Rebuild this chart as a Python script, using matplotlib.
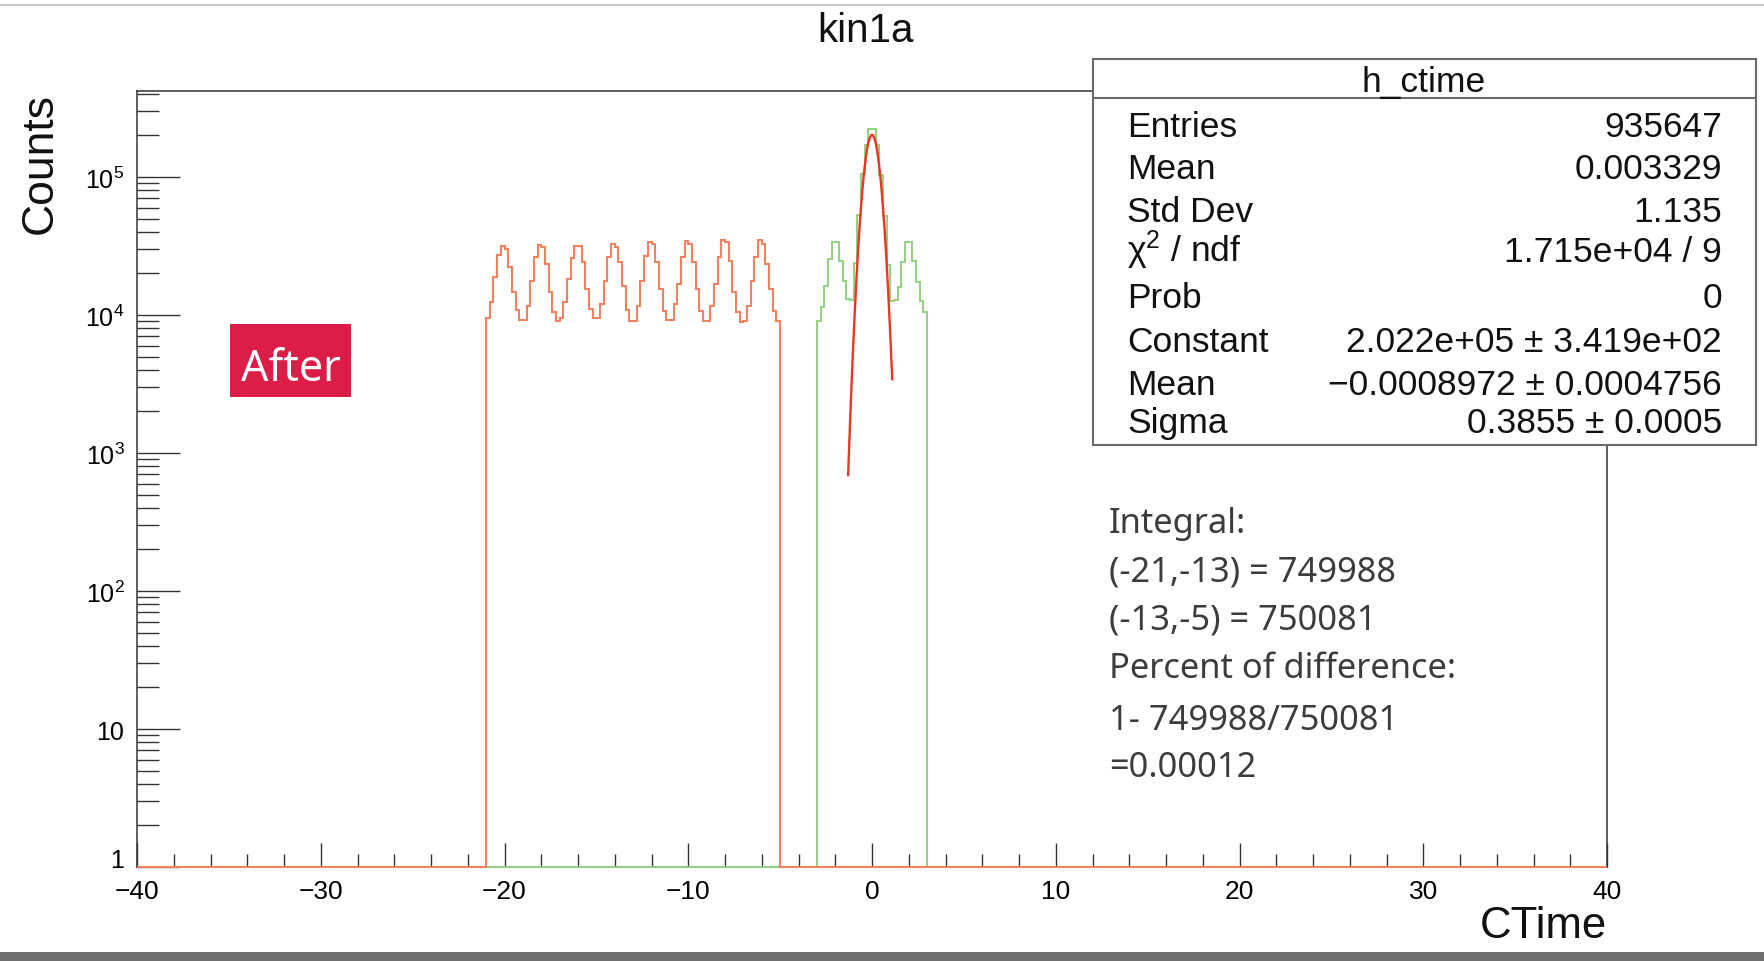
import numpy as np
import matplotlib
matplotlib.use("Agg")
import matplotlib.pyplot as plt
from matplotlib.patches import Rectangle
from matplotlib.lines import Line2D
from matplotlib.ticker import FixedLocator, FixedFormatter, LogLocator, NullFormatter

# ---------------- data ----------------
x_range = (-40.0, 40.0)
n_bins = 400

# orange histogram: bins of 0.2 starting at -21 (80 bins, up to -5)
orange_start = -21.0
orange_counts = [
    9460, 12360, 18900, 27370, 31620, 30080, 22150, 14590, 10880, 9250,
    9250, 11700, 17700, 26200, 32300, 31270, 23400, 14590, 10450, 8990,
    9500, 12360, 18200, 25750, 31620, 31620, 24080, 15420, 11070, 9500,
    9500, 12020, 17500, 26200, 32680, 31270, 24080, 16300, 10880, 9100,
    9100, 11700, 17500, 26630, 33590, 32680, 24080, 15420, 10650, 9200,
    9200, 12020, 16750, 26200, 34150, 32680, 24080, 15420, 10650, 8990,
    8990, 11700, 16750, 26200, 34900, 33590, 24760, 14590, 10450, 8850,
    9100, 11700, 17500, 26500, 34900, 32680, 23400, 15420, 10650, 8990,
]

# green histogram: bins of 0.2 starting at -3 (30 bins, up to 3)
green_start = -3.0
green_counts = [
    9000, 11400, 16100, 25400, 33600, 33600, 24800, 17700, 13100, 12800,
    24000, 53000, 105000, 172000, 222000, 221000, 170000, 103000, 52000, 23000,
    12700, 12800, 15850, 24300, 33600, 33600, 24800, 17400, 12700, 10450,
]

# gaussian fit parameters (from stats box)
fit_constant = 2.022e5
fit_mean = -0.0008972
fit_sigma = 0.3855
fit_range = (-1.3, 1.1)

x_ticks = [-40, -30, -20, -10, 0, 10, 20, 30, 40]
x_tick_labels = ["\u221240", "\u221230", "\u221220", "\u221210", "0", "10", "20", "30", "40"]
y_ticks = [1, 10, 1e2, 1e3, 1e4, 1e5]
y_tick_labels = ["1", "10", "$10^{2}$", "$10^{3}$", "$10^{4}$", "$10^{5}$"]
y_max = 4.2e5

title = "kin1a"
x_label = "CTime"
y_label = "Counts"
stats_title = "h_ctime"
stats_names = ["Entries", "Mean", "Std Dev", "\u03c7$^{2}$ / ndf", "Prob",
               "Constant", "Mean", "Sigma"]
stats_values = ["935647", "0.003329", "1.135", "1.715e+04 / 9", "0",
                "2.022e+05 \u00b1 3.419e+02", "\u22120.0008972 \u00b1 0.0004756",
                "0.3855 \u00b1 0.0005"]
integral_lines = ["Integral:", "(-21,-13) = 749988", "(-13,-5) = 750081",
                  "Percent of difference:", "1- 749988/750081", "=0.00012"]
tag_text = "After"

# ---------------- style ----------------
W, H = 1765, 962
plt.rcParams["font.family"] = ["Liberation Sans", "DejaVu Sans"]
plt.rcParams["mathtext.fontset"] = "custom"
plt.rcParams["mathtext.rm"] = "Liberation Sans"
plt.rcParams["mathtext.it"] = "Liberation Sans:italic"
plt.rcParams["mathtext.bf"] = "Liberation Sans:bold"

orange_col = "#F2825F"
green_col = "#92D27F"
red_col = "#EE3524"
frame_col = "#333333"


def fx(x):
    return x / W


def fy(y):
    return 1 - y / H


fig = plt.figure(figsize=(W / 100, H / 100), dpi=100)
fig.patch.set_facecolor("white")

ax_l, ax_r, ax_t, ax_b = 137, 1607, 92, 868
ax = fig.add_axes([fx(ax_l), fy(ax_b), (ax_r - ax_l) / W, (ax_b - ax_t) / H])
ax.set_yscale("log")
ax.set_xlim(*x_range)
ax.set_ylim(1, y_max)

edges = np.linspace(x_range[0], x_range[1], n_bins + 1)
bw = edges[1] - edges[0]

green_full = np.zeros(n_bins)
g0 = int(round((green_start - edges[0]) / bw))
green_full[g0:g0 + len(green_counts)] = green_counts
orange_full = np.zeros(n_bins)
o0 = int(round((orange_start - edges[0]) / bw))
orange_full[o0:o0 + len(orange_counts)] = orange_counts

ax.stairs(np.clip(green_full, 1, None), edges, baseline=None, color=green_col,
          lw=1.4, zorder=3, clip_on=False)
ax.stairs(np.clip(orange_full, 1, None), edges, baseline=None, color=orange_col,
          lw=1.5, zorder=4, clip_on=False)

xf = np.linspace(fit_range[0], fit_range[1], 300)
yf = fit_constant * np.exp(-0.5 * ((xf - fit_mean) / fit_sigma) ** 2)
ax.plot(xf, yf, color=red_col, lw=1.7, zorder=5)

for s in ax.spines.values():
    s.set_color(frame_col)
    s.set_linewidth(1.1)

ax.xaxis.set_major_locator(FixedLocator(x_ticks))
ax.xaxis.set_major_formatter(FixedFormatter(x_tick_labels))
ax.xaxis.set_minor_locator(FixedLocator(np.arange(-40, 41, 2)))
ax.yaxis.set_major_locator(FixedLocator(y_ticks))
ax.yaxis.set_major_formatter(FixedFormatter(y_tick_labels))
ax.yaxis.set_minor_locator(LogLocator(base=10, subs=np.arange(2, 10), numticks=20))
ax.yaxis.set_minor_formatter(NullFormatter())

ax.tick_params(axis="x", which="major", direction="in", length=17, width=1.0,
               color=frame_col, labelsize=19, pad=8.5, top=False)
ax.tick_params(axis="x", which="minor", direction="in", length=9.5, width=1.0,
               color=frame_col, top=False)
ax.tick_params(axis="y", which="major", direction="in", length=31, width=1.0,
               color=frame_col, labelsize=18, pad=9, right=False)
ax.tick_params(axis="y", which="minor", direction="in", length=16, width=1.0,
               color=frame_col, right=False)
# lift the lowest y label ("1") a little so it clears the "-40" below it
ax.get_yticklabels()[0].set_verticalalignment("baseline")

# titles
fig.text(fx(866), fy(41.7), title, ha="center", va="baseline", fontsize=29, color="#111111")
fig.text(fx(52), fy(93), y_label, ha="right", va="baseline", rotation=90,
         rotation_mode="anchor", fontsize=32, color="#111111")
fig.text(fx(1607), fy(938), x_label, ha="right", va="baseline", fontsize=31.5,
         color="#111111")

# stats box
box = Rectangle((fx(1093), fy(446)), (1756 - 1093) / W, (446 - 60) / H,
                transform=fig.transFigure, facecolor="white", edgecolor="#6a6a6a",
                lw=1.5, zorder=10)
fig.patches.append(box)
fig.lines.append(Line2D([fx(1093), fx(1756)], [fy(99), fy(99)], transform=fig.transFigure,
                        color="#6a6a6a", lw=1.5, zorder=11))
fig.text(fx(1424), fy(91.7), stats_title, ha="center", va="baseline", fontsize=25.5,
         color="#111111", zorder=12)
row_baselines = [136.7, 179.3, 221.7, 262, 308.3, 351.7, 395, 433.3]
for name, val, yb in zip(stats_names, stats_values, row_baselines):
    fig.text(fx(1127), fy(yb), name, ha="left", va="baseline", fontsize=25.5,
             color="#111111", zorder=12)
    fig.text(fx(1722), fy(yb), val, ha="right", va="baseline", fontsize=25.5,
             color="#111111", zorder=12)

# "After" tag
tag = Rectangle((fx(230), fy(398)), (351 - 230) / W, (398 - 325) / H,
                transform=fig.transFigure, facecolor="#DC1D48", edgecolor="none", zorder=10)
fig.patches.append(tag)
fig.text(fx(291), fy(380.7), tag_text, ha="center", va="baseline", fontsize=31,
         family="Noto Sans", color="white", zorder=12)

# integral annotation
int_baselines = [532.7, 581.7, 630, 678.5, 730, 776.7]
for line, yb in zip(integral_lines, int_baselines):
    fig.text(fx(1109), fy(yb), line, ha="left", va="baseline", fontsize=24.8,
             family="Noto Sans", color="#3c3c3c", zorder=12)

# window decorations
fig.lines.append(Line2D([0, 1], [fy(6), fy(6)], transform=fig.transFigure,
                        color="#bdbdbd", lw=1.2))
fig.patches.append(Rectangle((0, 0), 1, 9 / H, transform=fig.transFigure,
                             facecolor="#6e6e6e", edgecolor="none", zorder=20))

fig.savefig("out.png", dpi=100, facecolor="white")
